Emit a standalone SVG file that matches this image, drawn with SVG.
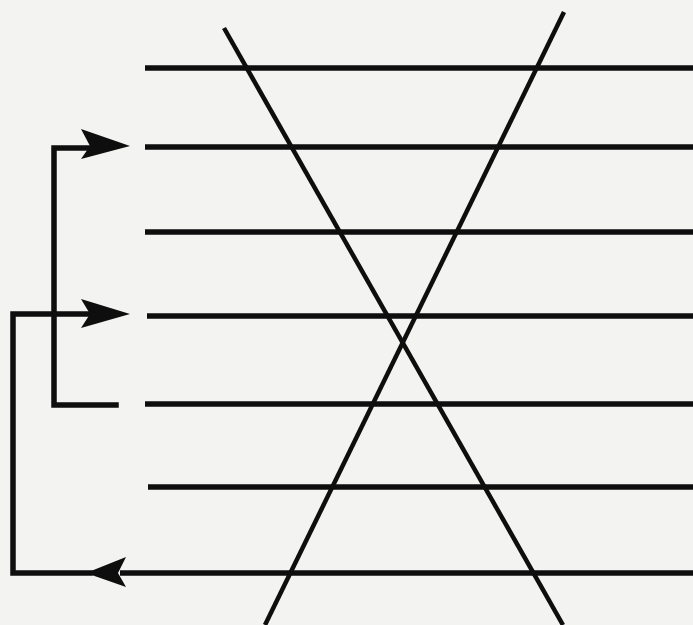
<svg xmlns="http://www.w3.org/2000/svg" width="693" height="625" viewBox="0 0 693 625">
<style>
.h{stroke:#0e0e0e;stroke-width:5.5;fill:none}
.d{stroke:#0e0e0e;stroke-width:4.5;fill:none}
.c{stroke:#0e0e0e;stroke-width:5.5;fill:none;stroke-linejoin:miter;stroke-linecap:square}
.ah{fill:#0e0e0e}
</style>
<rect width="693" height="625" fill="#f3f3f2"/>
<g id="lines">
<line class="h" x1="145" y1="68" x2="693" y2="68"/>
<line class="h" x1="145" y1="147" x2="693" y2="147"/>
<line class="h" x1="145" y1="232" x2="693" y2="232"/>
<line class="h" x1="147" y1="316" x2="693" y2="316"/>
<line class="h" x1="145" y1="404" x2="693" y2="404"/>
<line class="h" x1="148" y1="487" x2="693" y2="487"/>
<line class="h" x1="120" y1="573" x2="693" y2="573"/>
</g>
<g id="diagonals">
<line class="d" x1="224" y1="28" x2="563" y2="625"/>
<line class="d" x1="564" y1="12" x2="265" y2="625"/>
</g>
<g id="connectors">
<polyline class="c" points="116,405 54,405 54,148 90,148"/>
<polygon class="ah" points="130,146 81,129 90,146 81,159"/>
<polyline class="c" points="90,314 13,314 13,573 90,573"/>
<polygon class="ah" points="130,314 81,299 90,314 81,328"/>
<polygon class="ah" points="86,573 126,557 118,573 126,587"/>
</g>
</svg>
